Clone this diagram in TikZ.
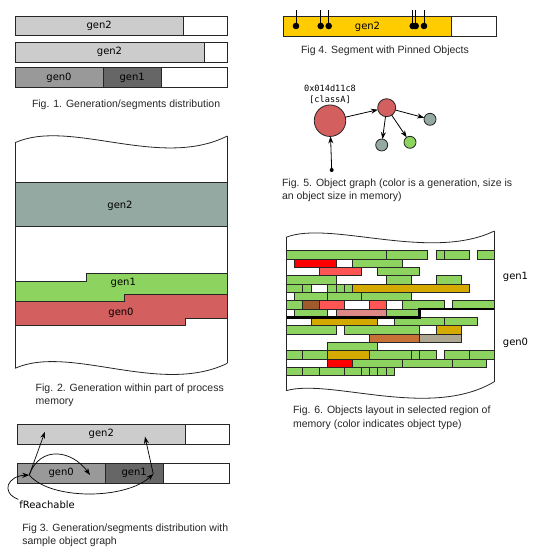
\documentclass[tikz,border=0pt]{standalone}
\usepackage{fontspec}
\setmainfont{Liberation Sans}
\newfontfamily\genfont{DejaVu Sans}
\newfontfamily\addrfont{DejaVu Sans Mono}
\usetikzlibrary{arrows.meta,positioning}
\definecolor{segLight}{HTML}{CCCCCC}
\definecolor{segMid}{HTML}{999999}
\definecolor{segDark}{HTML}{666666}
\definecolor{pinGold}{HTML}{FFCC00}
\definecolor{genTeal}{HTML}{93A9A1}
\definecolor{genGreen}{HTML}{8DD35F}
\definecolor{genRed}{HTML}{D35F5F}
\colorlet{oG}{genGreen}
\definecolor{oR}{HTML}{FF0000}
\definecolor{oLR}{HTML}{FF5555}
\definecolor{oBrown}{HTML}{A05A2C}
\definecolor{oPink}{HTML}{DE8787}
\definecolor{oGold}{HTML}{D4AA00}
\definecolor{oOrange}{HTML}{C87137}
\definecolor{oTaupe}{HTML}{ADA792}

\begin{document}
\begin{tikzpicture}[x=1pt, y=-1pt,
        every node/.style={inner sep=0, outer sep=0},
        seg/.style={draw=black!85, line width=0.8pt, minimum height=19.7pt, font=\genfont\fontsize{10}{12}\selectfont},
        caption/.style={anchor=base west, align=left, font=\fontsize{10.5}{13.5}\selectfont, text=black!85},
        genlabel/.style={font=\genfont\fontsize{10}{12}\selectfont},
        obj/.style={circle, draw=black!85, line width=0.8pt},
        ref/.style={-{Stealth[length=7pt, width=5pt]}, line width=0.8pt},
        blk/.style={draw=black!85, line width=0.6pt},
        frame/.style={draw=black!85, line width=0.8pt}]
    \useasboundingbox (0,0) rectangle (540,559);

    % Fig. 1: generation segments (top left)
    \node[seg, fill=segLight, minimum width=168.3pt, anchor=north west] (oneGenTwoA) at (15,16) {gen2};
    \node[seg, fill=white, minimum width=44pt, right=0pt of oneGenTwoA] (oneFreeA) {};
    \node[seg, fill=segLight, minimum width=189pt, anchor=north west] (oneGenTwoB) at (15,42.3) {gen2};
    \node[seg, fill=white, minimum width=23.3pt, right=0pt of oneGenTwoB] (oneFreeB) {};
    \node[seg, fill=segMid, minimum width=88pt, anchor=north west] (oneGenZero) at (15,67.7) {gen0};
    \node[seg, fill=segDark, minimum width=58.3pt, right=0pt of oneGenZero] (oneGenOne) {gen1};
    \node[seg, fill=white, minimum width=66pt, right=0pt of oneGenOne] (oneFreeC) {};
    \node[caption] (capOne) at (32,107) {Fig. 1. Generation/segments distribution};

    % Fig. 4: pinned segment (top right)
    \node[seg, fill=pinGold, minimum width=168.4pt, minimum height=19.3pt, anchor=north west] (pinGen) at (283.3,16.7) {gen2};
    \node[seg, fill=white, minimum width=44.3pt, minimum height=19.3pt, right=0pt of pinGen] (pinFree) {};
    \foreach \px in {296,320.7,328.7,412.7,415.7,424} {
        \draw[line width=0.9pt] (\px,10) -- (\px,26);
        \fill (\px,26) circle (3.3pt);
    }
    \node[caption] (capFour) at (301,53.7) {Fig 4. Segment with Pinned Objects};

    % Fig. 5: object graph
    \node[align=center, font=\addrfont\fontsize{8.6}{11}\selectfont] (addr) at (330,94.5) {0x014d11c8\\{}[classA]};
    \node[obj, fill=genRed, minimum size=31.5pt] (bigObj) at (330,120.7) {};
    \node[obj, fill=genRed, minimum size=18pt] (midObj) at (386.7,107.7) {};
    \node[obj, fill=genTeal, minimum size=12pt] (tealRight) at (430,119.3) {};
    \node[obj, fill=genTeal, minimum size=12pt] (tealLow) at (381.7,145) {};
    \node[obj, fill=genGreen, minimum size=12pt] (greenObj) at (410,142.3) {};
    \node[circle, fill=black, minimum size=4pt] (rootDot) at (331.7,170) {};
    \draw[ref] (rootDot) -- (bigObj);
    \draw[ref] (bigObj) -- (midObj);
    \draw[ref] (midObj) -- (tealRight);
    \draw[ref] (midObj) -- (tealLow);
    \draw[ref] (midObj) -- (greenObj);
    \node[caption] (capFive) at (282,199.9) {Fig. 5. Object graph (color is a generation, size is\\an object size in memory)};

    % Fig. 2: generations in process memory
    \fill[genTeal] (15,182.3) rectangle (227.3,226);
    \draw[frame] (15,182.3) -- (227.3,182.3) (15,226) -- (227.3,226);
    \filldraw[frame, fill=genGreen] (15,281.7) -- (86.7,281.7) -- (86.7,273.3) -- (227.3,273.3)
        -- (227.3,294) -- (124,294) -- (124,301.7) -- (15,301.7) -- cycle;
    \filldraw[frame, fill=genRed] (15,301.7) -- (124,301.7) -- (124,294) -- (227.3,294)
        -- (227.3,318.7) -- (185.7,318.7) -- (185.7,325.7) -- (15,325.7) -- cycle;
    \draw[frame] (15,142.7) .. controls (70,118) and (160,170) .. (227.3,136);
    \draw[frame] (15,368.3) .. controls (70,344) and (160,396) .. (227.3,363.3);
    \draw[frame] (15,142.7) -- (15,368.3) (227.3,136) -- (227.3,363.3);
    \node[genlabel] (twoGenTwo) at (120,206) {gen2};
    \node[genlabel] (twoGenOne) at (123.3,283.3) {gen1};
    \node[genlabel] (twoGenZero) at (121,312.7) {gen0};
    \node[caption] (capTwo) at (35.7,404.5) {Fig. 2. Generation within part of process\\memory};

    % Fig. 6: objects layout
    \begin{scope}[shift={(286,250.7)}, x=8.333pt, y=-8.333pt]
        \foreach \r/\a/\b/\c in {0/0/12/oG, 0/12/17/oG, 0/18/19/oG, 0/19/22/oG, 0/23/25/oG,
                1/1/6/oR, 1/8/14/oG,
                2/4/9/oLR, 2/11/16/oG,
                3/0/6/oG, 3/12/15/oG, 3/18/21/oG,
                4/0/2/oG, 4/2/3/oG, 4/5/6/oG, 4/6/7/oG, 4/7/8/oG, 4/8/22/oGold,
                5/1/5/oG, 5/5/9/oG, 5/9/15/oG,
                6/0/2/oG, 6/2/4/oBrown, 6/4/7/oLR, 6/10/12/oLR, 6/14/19/oG, 6/20/25/oG,
                7/1/5/oG, 7/6/12/oPink, 7/12/16/oG,
                8/3/11/oGold, 8/13/19/oG, 8/19/23/oG,
                9/0/6/oG, 9/7/16/oG, 9/18/21/oGold,
                10/10/16/oOrange, 10/16/21/oTaupe,
                11/5/11/oG,
                12/0/2/oG, 12/2/5/oG, 12/5/10/oGold, 12/10/15/oG, 12/15/16/oG, 12/16/18/oG, 12/19/22/oG, 12/22/25/oG,
                13/5/8/oR, 13/8/14/oG, 13/14/20/oG, 13/20/24/oG,
                14/0/2/oG, 14/2/4/oG, 14/4/7/oG, 14/7/9/oG, 14/9/10/oG, 14/10/11/oG, 14/11/12/oG, 14/12/13/oG}
            \draw[blk, fill=\c] (\a,\r) rectangle (\b,\r+1);
        % border between gen1 and gen0
        \draw[line width=2.4pt] (0,8) -- (16,8) -- (16,7) -- (25,7);
    \end{scope}
    \draw[frame] (286,237.3) .. controls (330,220) and (430,262) .. (494.3,231);
    \draw[frame] (286,390.7) .. controls (330,378) and (430,420) .. (494.3,381.7);
    \draw[frame] (286,237.3) -- (286,390.7) (494.3,231) -- (494.3,381.7);
    \node[genlabel] (sixGenOne) at (515.5,277) {gen1};
    \node[genlabel] (sixGenZero) at (515.5,343) {gen0};
    \node[caption] (capSix) at (293,427.2) {Fig. 6. Objects layout in selected region of\\memory (color indicates object type)};

    % Fig. 3: segments with object graph (bottom left)
    \node[seg, fill=segLight, minimum width=168pt, anchor=north west] (thrGenTwo) at (17.3,424.3) {gen2};
    \node[seg, fill=white, minimum width=44pt, right=0pt of thrGenTwo] (thrFreeA) {};
    \node[seg, fill=segMid, minimum width=87.7pt, minimum height=20pt, anchor=north west] (thrGenZero) at (17.3,463.3) {gen0};
    \node[seg, fill=segDark, minimum width=58.3pt, minimum height=20pt, right=0pt of thrGenZero] (thrGenOne) {gen1};
    \node[seg, fill=white, minimum width=66pt, minimum height=20pt, right=0pt of thrGenOne] (thrFreeB) {};
    \coordinate (objA) at (29.3,475);
    \coordinate (objB) at (90,475);
    \coordinate (objC) at (153.3,474);
    \coordinate (objD) at (45,431.7);
    \coordinate (objE) at (145,436.7);
    \node[genlabel, anchor=west, inner sep=1pt] (freach) at (18.3,504.3) {fReachable};
    \draw[ref, line width=0.7pt] (objA) -- (objD);
    \draw[ref, line width=0.7pt] (objA) .. controls (40,445) and (72,450) .. (objB);
    \draw[ref, line width=0.7pt] (objA) .. controls (50,500) and (125,500) .. (objC);
    \draw[ref, line width=0.7pt] (objC) -- (objE);
    \draw[ref, line width=0.7pt] (freach.north west) .. controls (0,492) and (8,476) .. (objA);
    \node[caption] (capThree) at (22.3,544.5) {Fig 3. Generation/segments distribution with\\sample object graph};
\end{tikzpicture}
\end{document}
